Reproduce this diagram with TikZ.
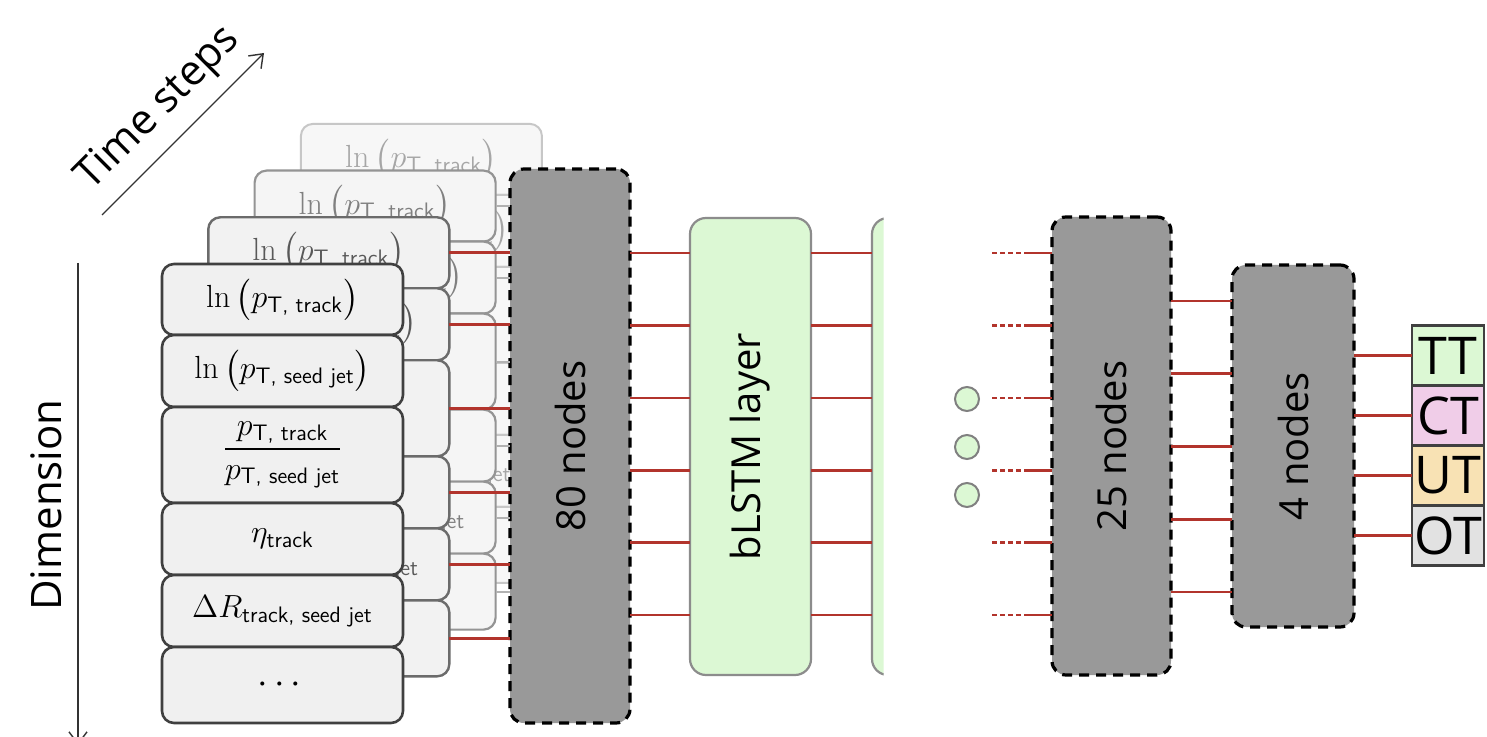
\RequirePackage{fix-cm}
\documentclass[tikz,border=0pt]{standalone}
\usepackage{fontspec}
\usepackage{amsmath}
\newfontfamily\osans{Open Sans}
\usetikzlibrary{calc,arrows.meta}
\definecolor{rline}{RGB}{178,52,44}
\definecolor{lgreen}{RGB}{220,248,212}
\definecolor{netgray}{RGB}{153,153,153}
\definecolor{ctpink}{RGB}{240,205,232}
\definecolor{uttan}{RGB}{248,226,180}
\definecolor{otgray}{RGB}{226,226,226}
\definecolor{dkbord}{RGB}{64,64,64}
\newcommand\sub[1]{\text{\sffamily #1}}
\newcommand\featcolumn[5]{%
 \begin{scope}[shift={(46.3*#1,-46.7*#1)}]
  \node[feat, draw=#2, fill=#3, text=#4, line width=#5, minimum height=35.5pt] (c#1-1) at (282.5,299.5) {$\ln\,\bigl(p_{\sub{T, track}}\bigr)$};
  \node[feat, draw=#2, fill=#3, text=#4, line width=#5, minimum height=36pt] (c#1-2) at (282.5,371) {$\ln\,\bigl(p_{\sub{T, seed jet}}\bigr)$};
  \node[feat, draw=#2, fill=#3, text=#4, line width=#5, minimum height=48pt] (c#1-3) at (282.5,455) {$\dfrac{p_{\sub{T, track}}}{p_{\sub{T, seed jet}}}$};
  \node[feat, draw=#2, fill=#3, text=#4, line width=#5, minimum height=36pt] (c#1-4) at (282.5,539) {$\eta_{\sub{track}}$};
  \node[feat, draw=#2, fill=#3, text=#4, line width=#5, minimum height=36pt] (c#1-5) at (282.5,611) {$\Delta R_{\sub{track, seed jet}}$};
  \node[feat, draw=#2, fill=#3, text=#4, line width=#5, minimum height=38pt, font=\fontsize{19}{22}\selectfont] (c#1-6) at (282.5,685) {$\cdots$};
 \end{scope}}
\begin{document}
\begin{tikzpicture}[x=0.5pt,y=-0.5pt,
  feat/.style={rectangle, rounded corners=6pt, minimum width=120.5pt, inner sep=0pt, outer sep=0pt, font=\fontsize{16}{19}\selectfont},
  dnet/.style={rectangle, rounded corners=7pt, draw=black, fill=netgray, line width=1.6pt, dash pattern=on 5pt off 3.5pt, inner sep=0pt, outer sep=0pt},
  lstmbox/.style={rectangle, rounded corners=8pt, draw=gray!90, fill=lgreen, line width=1.1pt, minimum width=60.5pt, minimum height=228.5pt, inner sep=0pt, outer sep=0pt},
  lbl/.style={font=\osans\fontsize{20}{24}\selectfont, rotate=90, inner sep=0pt},
  big/.style={font=\osans\fontsize{21}{25}\selectfont, inner sep=0pt},
  outbox/.style={rectangle, draw=dkbord, line width=1.3pt, minimum width=36pt, minimum height=30pt, inner sep=0pt, outer sep=0pt, font=\osans\fontsize{26}{30}\selectfont},
  conn/.style={draw=rline, line width=1.3pt},
  gconn/.style={draw=gray!60, line width=1pt},
  dconn/.style={draw=rline, line width=1.3pt, dash pattern=on 2.5pt off 1.5pt},
  dotc/.style={circle, draw=gray, fill=lgreen, line width=1pt, minimum size=12pt, inner sep=0pt},
  axis/.style={draw=black!80, line width=0.7pt, -{Straight Barb[length=6pt,width=9pt]}}]
\fill[white] (0,0) rectangle (1487,737);
\useasboundingbox (0,0) rectangle (1487,737);

% axes
\coordinate (ts0) at (102,215);
\coordinate (ts1) at (264,53);
\draw[axis] (ts0) -- (ts1);
\node[big, rotate=45] (tstext) at (159,109) {Time steps};
\coordinate (dm0) at (78,263);
\coordinate (dm1) at (78,745);
\draw[axis] (dm0) -- (dm1);
\node[big, rotate=90] (dmtext) at (46,505) {Dimension};

% stacked feature columns
\featcolumn{3}{black!22}{black!3}{black!35}{1pt}
\node[dnet, minimum width=60pt, minimum height=277pt] (n80) at (570,446) {};
\node[lbl] (t80) at (n80) {80 nodes};
\featcolumn{2}{black!42}{black!4}{black!50}{1.1pt}
\foreach \i in {1,...,6} \draw[gconn] (c2-\i.east) -- (c2-\i.east -| n80.west);
\featcolumn{1}{black!58}{black!5}{black!65}{1.2pt}
\foreach \i in {1,...,6} \draw[conn] (c1-\i.east) -- (c1-\i.east -| n80.west);
\featcolumn{0}{dkbord}{black!6}{black}{1.3pt}

% bLSTM
\node[lstmbox] (lstm) at (750.5,446.5) {};
\node[lbl] (tlstm) at (lstm) {bLSTM layer};
\begin{scope}
 \clip (850,150) rectangle (883.5,700);
 \node[lstmbox] (lstm2) at (932.5,446.5) {};
\end{scope}
\foreach \i in {1,...,6} {
  \coordinate (h\i) at (0,{253+72.4*(\i-1)});
  \draw[conn] (n80.east |- h\i) -- (lstm.west |- h\i);
  \draw[conn] (lstm.east |- h\i) -- (lstm2.west |- h\i);
}

% dots
\node[dotc] (o1) at (967,399) {};
\node[dotc] (o2) at (967,447) {};
\node[dotc] (o3) at (967,495) {};

% 25 nodes
\node[dnet, minimum width=59.5pt, minimum height=229pt] (n25) at (1111.5,446) {};
\node[lbl] (t25) at (n25) {25 nodes};
\foreach \i in {1,...,6} {
  \coordinate (dA\i) at (992,{253+72.4*(\i-1)});
  \coordinate (dB\i) at (1029,{253+72.4*(\i-1)});
  \draw[dconn] (dA\i) -- (dB\i);
  \draw[conn] (dB\i) -- (n25.west |- dB\i);
}

% 4 nodes
\node[dnet, minimum width=61pt, minimum height=181pt] (n4) at (1293,446) {};
\node[lbl] (t4) at (n4) {4 nodes};
\foreach \i in {1,...,5} {
  \coordinate (g\i) at (0,{301+72.75*(\i-1)});
  \draw[conn] (n25.east |- g\i) -- (n4.west |- g\i);
}

% outputs
\node[outbox, fill=lgreen] (tt) at (1448,355.5) {TT};
\node[outbox, fill=ctpink] (ct) at (1448,415.5) {CT};
\node[outbox, fill=uttan] (ut) at (1448,475.5) {UT};
\node[outbox, fill=otgray] (ot) at (1448,535.5) {OT};
\foreach \o in {tt,ct,ut,ot} \draw[conn] (n4.east |- \o.west) -- (\o.west);
\end{tikzpicture}
\end{document}
